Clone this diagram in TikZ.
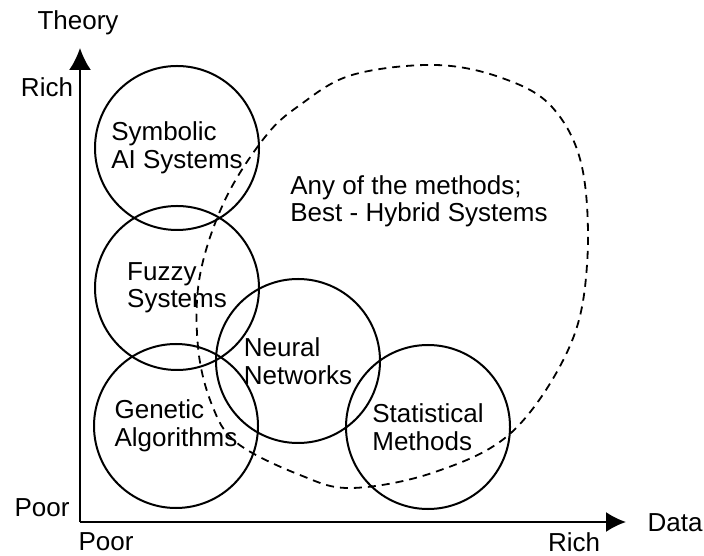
\documentclass[tikz,border=0pt]{standalone}
\usepackage{fontspec}
\setmainfont{Liberation Sans}
\usetikzlibrary{positioning,arrows.meta}

\begin{document}
\begin{tikzpicture}[x=0.5pt, y=0.5pt, font=\fontsize{13}{13.75}\selectfont]
  \useasboundingbox (0,0) rectangle (704,555);
  \coordinate (Origin) at (80,33);
  \coordinate (Theory-Tip) at (80,507);
  \coordinate (Data-Tip) at (626,33);
  \draw[line width=1pt, -{Latex[length=11pt, width=11pt]}] (Origin) -- (Theory-Tip);  % Theory axis
  \draw[line width=1pt, -{Latex[length=10pt, width=10pt]}] (Origin) -- (Data-Tip);  % Data axis
  \node (Theory-Label) at (78,532) {Theory};
  \node (Theory-Rich) at (47,468) {Rich};
  \node (Theory-Poor) at (42,47) {Poor};
  \node (Data-Label) at (675,32) {Data};
  \node (Data-Poor) at (106,13) {Poor};
  \node (Data-Rich) at (574,13) {Rich};
  \node[circle, draw, line width=1pt, minimum size=82pt, align=left] (Symbolic-AI) at (177,407) {Symbolic\\AI Systems};  % Rich theory
  \node[circle, draw, line width=1pt, minimum size=82pt, align=left] (Fuzzy-Sys) at (177,267) {Fuzzy\\Systems};
  \node[circle, draw, line width=1pt, minimum size=82pt, align=left] (Genetic-Alg) at (176,129) {Genetic\\Algorithms};
  \node[circle, draw, line width=1pt, minimum size=82pt, align=left] (Neural-Net) at (298,194) {Neural\\Networks};
  \node[circle, draw, line width=1pt, minimum size=82pt, align=left] (Stat-Methods) at (428,128) {Statistical\\Methods};  % Rich data
  \draw[line width=0.9pt, dash pattern=on 4pt off 3pt] plot[smooth cycle, tension=0.6] coordinates {
    (237,112) (300,80) (352,67) (435,83) (512,123) (569,207) (587,290) (582,388)
    (552,448) (502,477) (435,490) (352,480) (300,450) (265,418) (225,355) (200,280) (198,208) (212,150)};
  \node[align=left, anchor=west, inner sep=0pt] (Hybrid) at (290,353.5) {Any of the methods;\\Best - Hybrid Systems};
\end{tikzpicture}
\end{document}
